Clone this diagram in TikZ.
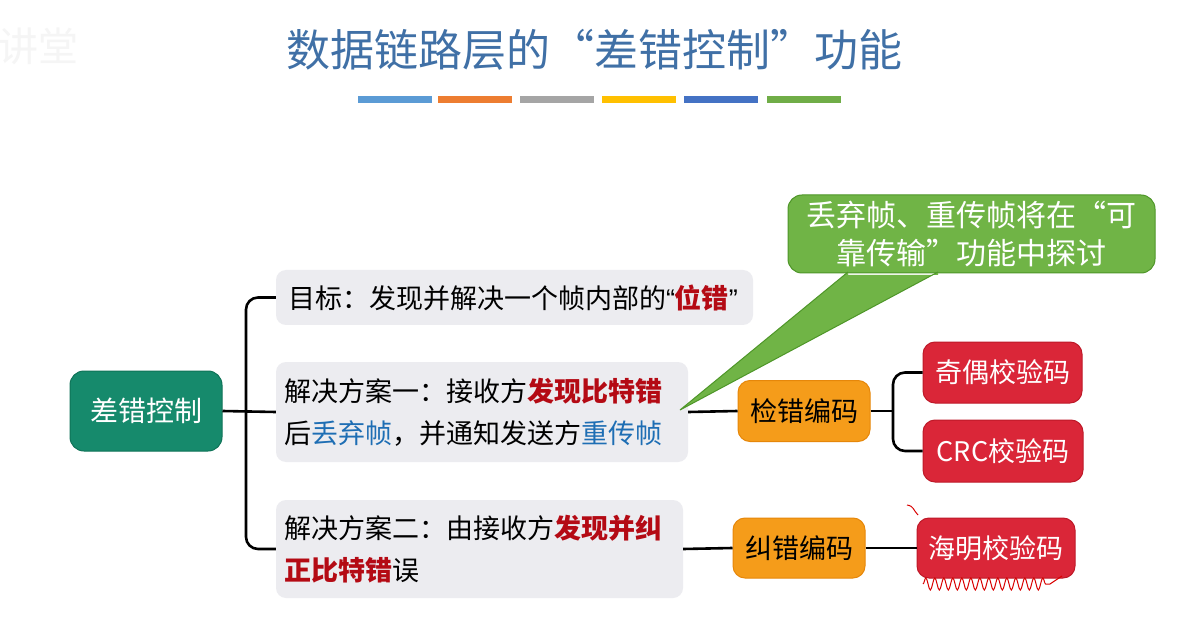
\documentclass[tikz,border=0pt]{standalone}
\usepackage{fontspec}
\setmainfont{Noto Sans CJK SC}
\newfontfamily\latinq{Liberation Sans}
\usetikzlibrary{decorations.pathmorphing}
\definecolor{titleblue}{RGB}{64,112,166}
\definecolor{boxgray}{RGB}{236,236,240}
\definecolor{rootgreen}{RGB}{22,138,108}
\definecolor{rootborder}{RGB}{15,115,88}
\definecolor{orangefill}{RGB}{245,156,26}
\definecolor{orangedraw}{RGB}{230,135,10}
\definecolor{redfill}{RGB}{218,38,56}
\definecolor{reddraw}{RGB}{190,25,40}
\definecolor{callgreen}{RGB}{112,180,70}
\definecolor{calldraw}{RGB}{78,150,40}
\definecolor{darkred}{RGB}{180,10,20}
\definecolor{txtblue}{RGB}{30,110,180}
\definecolor{barA}{RGB}{91,155,213}
\definecolor{barB}{RGB}{237,125,49}
\definecolor{barC}{RGB}{165,165,165}
\definecolor{barD}{RGB}{255,192,0}
\definecolor{barE}{RGB}{68,114,196}
\definecolor{barF}{RGB}{112,173,71}
\begin{document}
\begin{tikzpicture}[x=1pt,y=-1pt,
  txtbox/.style={fill=boxgray, rounded corners=10, align=left, inner xsep=8pt, inner ysep=0pt,
     font=\fontsize{27pt}{42pt}\selectfont},
  rootbox/.style={fill=rootgreen, draw=rootborder, line width=1pt, rounded corners=14, text=white,
     minimum width=152pt, minimum height=80pt, font=\fontsize{28pt}{32pt}\selectfont},
  codebox/.style={fill=orangefill, draw=orangedraw, line width=1pt, rounded corners=12,
     minimum width=132pt, minimum height=61pt, inner sep=0pt, font=\fontsize{27pt}{32pt}\selectfont},
  leafbox/.style={fill=redfill, draw=reddraw, line width=1pt, rounded corners=12, text=white,
     minimum width=159pt, minimum height=61pt, inner sep=0pt, font=\fontsize{27pt}{32pt}\selectfont},
  conn/.style={line width=2.6pt, black},
  bar/.style={minimum width=74pt, minimum height=7pt, inner sep=0pt}
]
\useasboundingbox (0,0) rectangle (1185,617);
\fill[white] (0,0) rectangle (1185,617);

% watermark
\node[anchor=east, text=black!4, font=\fontsize{40pt}{42pt}\selectfont] (wm) at (82,46) {讲堂};

% title
\node[text=titleblue, font=\fontsize{44pt}{48pt}\selectfont] (title) at (594,50) {数据链路层的“差错控制”功能};

% bars
\node[bar, fill=barA] (bA) at (395,100) {};
\node[bar, fill=barB] (bB) at (475,100) {};
\node[bar, fill=barC] (bC) at (557,100) {};
\node[bar, fill=barD] (bD) at (639,100) {};
\node[bar, fill=barE] (bE) at (721,100) {};
\node[bar, fill=barF] (bF) at (804,100) {};

% root
\node[rootbox] (root) at (146,411) {差错控制};

% text boxes
\node[txtbox, inner xsep=12pt, text width=453pt, minimum height=55pt] (b1) at (514.5,297.5)
  {目标：发现并解决一个帧内部的{\latinq “}\textcolor{darkred}{\bfseries 位错}{\latinq ”}};
\node[txtbox, text width=396pt, minimum height=100pt] (b2) at (482,412)
  {解决方案一：接收方\textcolor{darkred}{\bfseries 发现比特错}\\后\textcolor{txtblue}{丢弃帧}，并通知发送方\textcolor{txtblue}{重传帧}};
\node[txtbox, text width=391pt, minimum height=98pt] (b3) at (479.5,549)
  {解决方案二：由接收方\textcolor{darkred}{\bfseries 发现并纠}\\\textcolor{darkred}{\bfseries 正比特错}误};

% code nodes
\node[codebox] (det) at (804,411) {检错编码};
\node[codebox, minimum height=60pt] (cor) at (799,548) {纠错编码};
\node[leafbox] (odd) at (1002.5,372.5) {奇偶校验码};
\node[leafbox, minimum width=160pt, minimum height=62pt] (crc) at (1003,451) {CRC校验码};
\node[leafbox, minimum width=158pt, minimum height=60pt] (ham) at (996,548) {海明校验码};

% connectors
\coordinate (j1) at (246,411);
\coordinate (j2) at (893,411);
\draw[conn] (root.east) -- (b2.west);
\draw[conn, rounded corners=12] (b1.west) -| (j1) |- (b3.west);
\draw[conn] (b2.east) -- (det.west);
\draw[conn] (b3.east) -- (cor.west);
\draw[conn] (cor.east) -- (ham.west);
\draw[conn] (det.east) -- (j2);
\draw[conn, rounded corners=12] (odd.west) -| (j2) |- (crc.west);

% callout
\node[fill=callgreen, draw=calldraw, line width=1pt, rounded corners=14, text=white,
  minimum width=367pt, minimum height=78pt, align=center,
  font=\fontsize{30pt}{38pt}\selectfont] (call) at (971.5,234)
  {丢弃帧、重传帧将在“可\\靠传输”功能中探讨};
\coordinate (tip) at (680,410);
\coordinate (pa) at (848,272);
\coordinate (pb) at (938,272);
\fill[callgreen] (pa) -- (tip) -- (pb) -- ([yshift=-3pt]pb) -- ([yshift=-3pt]pa) -- cycle;
\draw[calldraw, line width=1pt] (pa) -- (tip) -- (pb);

% red hand-drawn marks
\draw[red!85!black, line width=1pt, decorate, decoration={snake, amplitude=6pt, segment length=9pt}]
  (923,584) -- (1050,584);
\draw[red!85!black, line width=1pt] (1050,584) -- (1062,576);
\draw[red!85!black, line width=1pt] (907,505) .. controls (914,506) and (913,510) .. (918,515);
\end{tikzpicture}
\end{document}
